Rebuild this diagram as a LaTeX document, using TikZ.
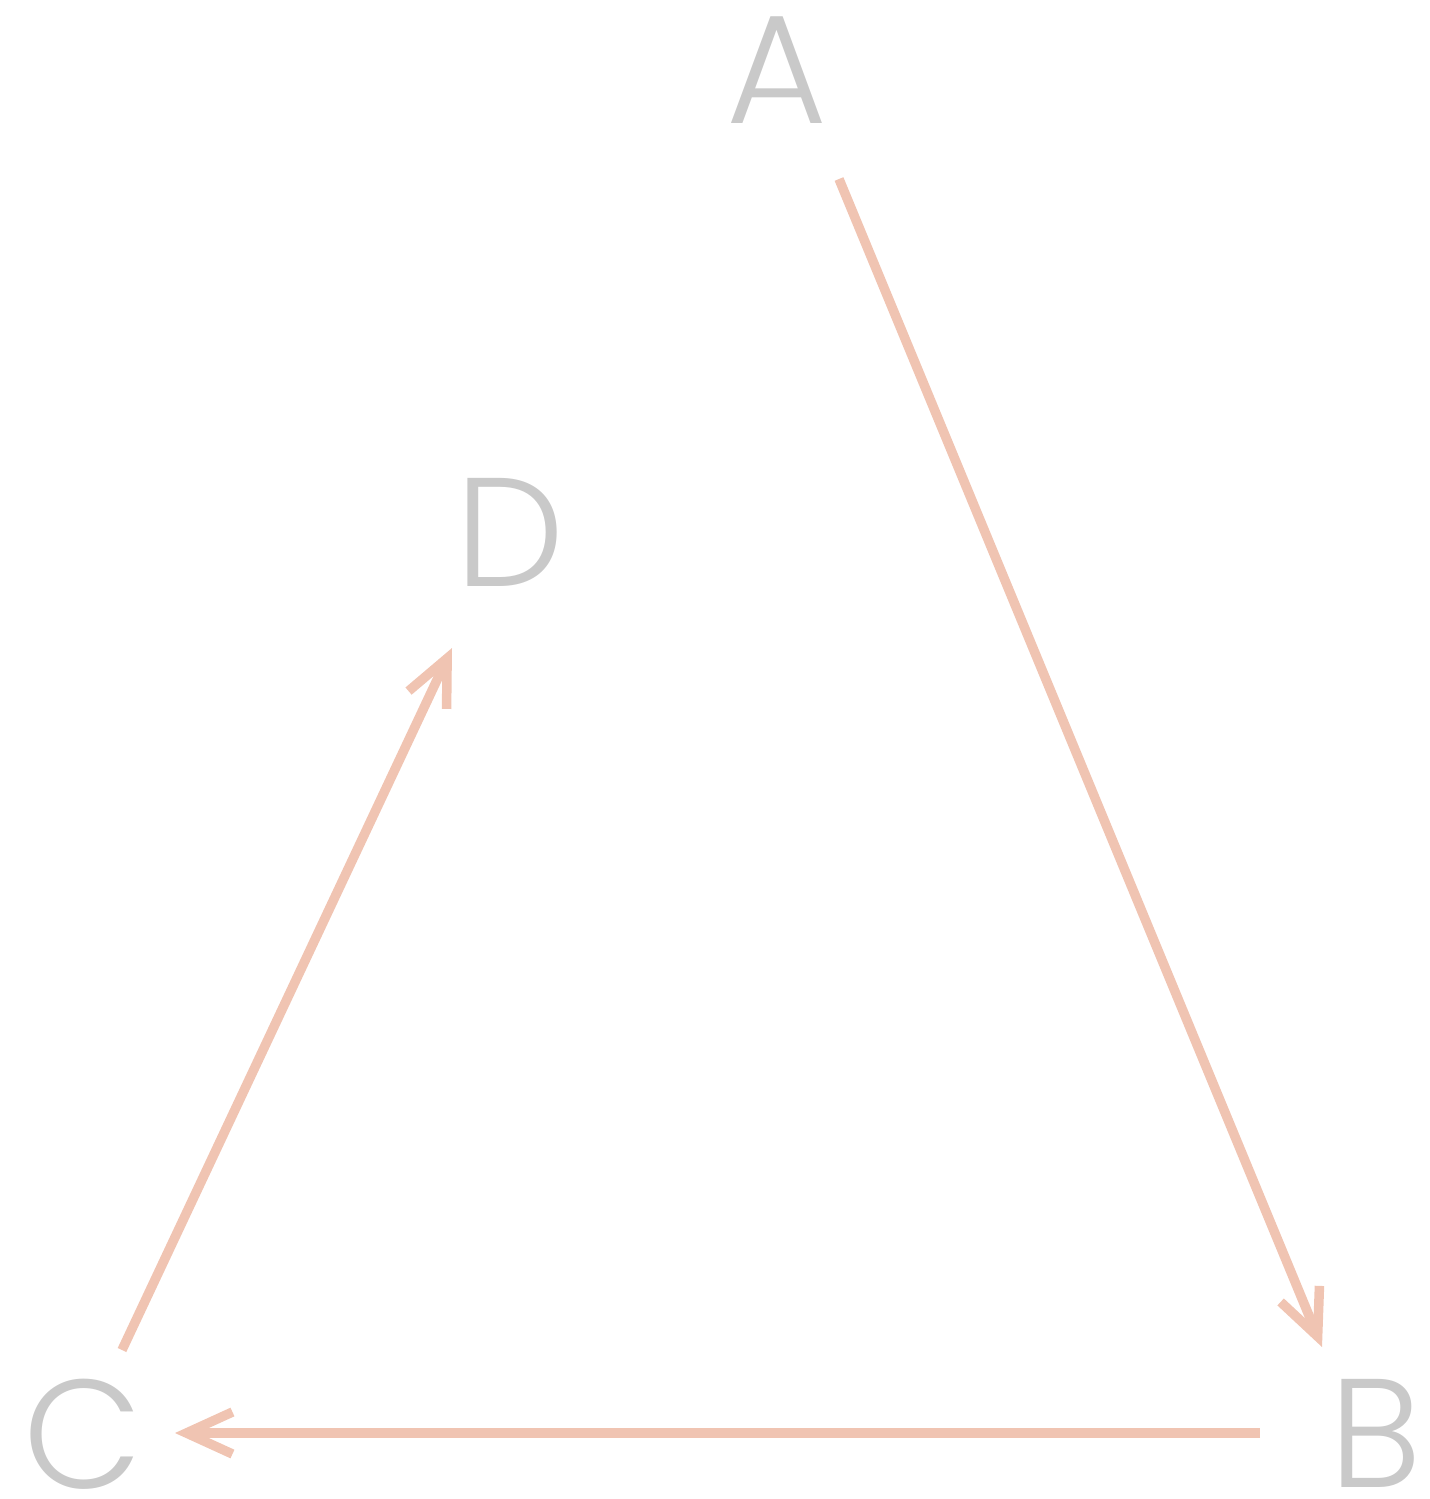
\documentclass[tikz,border=0pt]{standalone}
\usepackage{fontspec}
\setmainfont{Poppins Light}
\usetikzlibrary{arrows.meta}

\definecolor{letter}{HTML}{C9C9C9}
\definecolor{edge}{HTML}{F0C4B2}

\tikzset{
    vertex/.style={text=letter, inner sep=0pt, font=\fontsize{44}{44}\selectfont},
    link/.style={edge, line width=2.7pt,
        -{Straight Barb[sharp, length=0.46cm, width=0.42cm]}}
}

\begin{document}
\begin{tikzpicture}[x=0.01cm, y=-0.01cm]

    % Frame
    \useasboundingbox (0,0) rectangle (1429,1499);

    % Vertices
    \node[vertex] (A) at (777,70) {A};
    \node[vertex] (B) at (1376,1433) {B};
    \node[vertex] (C) at (83,1434) {C};
    \node[vertex] (D) at (510,532) {D};

    % Ends of the links
    \coordinate (ab-out) at ([shift={(62,109)}]A.center);
    \coordinate (ab-in) at ([shift={(-54,-86)}]B.center);
    \coordinate (bc-out) at ([shift={(-116,0)}]B.center);
    \coordinate (bc-in) at ([shift={(92,-1)}]C.center);
    \coordinate (cd-out) at ([shift={(39,-84)}]C.center);
    \coordinate (cd-in) at ([shift={(-58,116)}]D.center);

    % Links
    \draw[link] (ab-out) -- (ab-in);
    \draw[link] (bc-out) -- (bc-in);
    \draw[link] (cd-out) -- (cd-in);
\end{tikzpicture}
\end{document}
